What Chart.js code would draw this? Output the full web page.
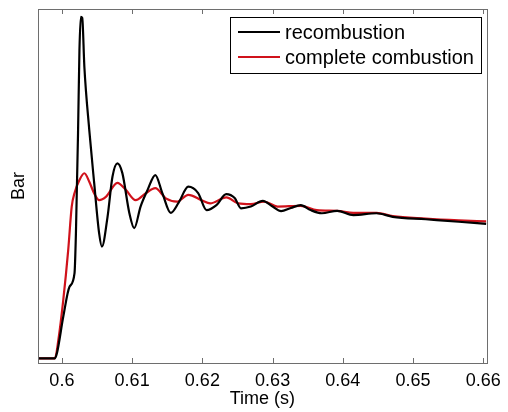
<!DOCTYPE html>
<html>
<head>
<meta charset="utf-8">
<script src="https://cdn.jsdelivr.net/npm/chart.js@4"></script>
<style>
html,body{margin:0;padding:0;background:#fff;}
#wrap{position:relative;width:508px;height:412px;}
</style>
</head>
<body>
<div id="wrap"><canvas id="c" width="508" height="412"></canvas></div>
<script>
// ---- data ----
const seriesNames = ['recombustion', 'complete combustion'];
const xTicks = [0.6, 0.61, 0.62, 0.63, 0.64, 0.65, 0.66];
const recombTime = [0.5966,0.5990,0.5993,0.6002,0.6011,0.6018,0.6020,0.6023,0.6025,0.6027,0.6029,0.6032,0.6039,0.6046,0.6053,0.6057,0.6065,0.6072,0.6079,0.6086,0.6096,0.6103,0.6112,0.6122,0.6133,0.6143,0.6155,0.6166,0.6180,0.6194,0.6206,0.6220,0.6234,0.6246,0.6255,0.6269,0.6286,0.6300,0.6312,0.6326,0.6340,0.6354,0.6370,0.6392,0.6415,0.6448,0.6471,0.6518,0.6565,0.6604];
const recombBar  = [1.3,1.3,2.8,13.1,21.6,25.4,36.7,65.0,88.4,97.8,97.5,83.7,65.8,50.8,36.7,32.9,41.3,52.6,56.4,53.7,42.4,38.1,44.2,48.9,53.1,48.0,42.4,45.2,49.8,48.0,43.2,44.6,47.7,46.6,43.7,44.2,45.8,44.2,42.9,43.8,44.6,43.2,42.3,43.0,41.8,42.3,41.3,40.6,39.9,39.3];
const completeTime = [0.5966,0.5990,0.5995,0.6002,0.6009,0.6014,0.6018,0.6025,0.6032,0.6039,0.6046,0.6053,0.6063,0.6079,0.6091,0.6105,0.6119,0.6133,0.6148,0.6164,0.6180,0.6199,0.6211,0.6234,0.6251,0.6269,0.6288,0.6307,0.6340,0.6363,0.6392,0.6415,0.6448,0.6471,0.6518,0.6565,0.6604];
const completeBar  = [1.3,1.3,6.5,17.8,31.9,44.2,48.0,51.7,53.6,51.2,47.9,46.0,47.0,50.9,48.9,46.0,47.9,49.4,46.5,45.6,47.5,46.0,45.1,46.8,45.1,44.9,45.6,44.2,44.4,43.2,43.0,42.4,42.4,41.5,40.8,40.3,40.0];

const toPts = (xs, ys) => xs.map((x, i) => ({x: x, y: ys[i]}));
const FONT = "'Liberation Sans', Arial, Helvetica, sans-serif";

const framePlugin = {
  id: 'frame',
  afterDatasetsDraw(chart) {
    const {ctx, chartArea: a, scales} = chart;
    ctx.save();
    ctx.strokeStyle = '#6e6e6e';
    ctx.lineWidth = 1;
    ctx.strokeRect(Math.round(a.left) + 0.5, Math.round(a.top) + 0.5,
                   Math.round(a.right - a.left), Math.round(a.bottom - a.top));
    ctx.beginPath();
    xTicks.forEach(v => {
      const px = Math.round(scales.x.getPixelForValue(v)) + 0.5;
      ctx.moveTo(px, a.bottom); ctx.lineTo(px, a.bottom - 5);
      ctx.moveTo(px, a.top); ctx.lineTo(px, a.top + 5);
    });
    ctx.stroke();
    // legend
    const bx = 230.5, by = 17.5, bw = 251, bh = 56;
    ctx.fillStyle = '#fff';
    ctx.fillRect(bx, by, bw, bh);
    ctx.strokeStyle = '#000';
    ctx.strokeRect(bx, by, bw, bh);
    chart.data.datasets.forEach((ds, i) => {
      const y = 32 + i * 25;
      ctx.strokeStyle = ds.borderColor;
      ctx.lineWidth = 2;
      ctx.beginPath(); ctx.moveTo(238, y); ctx.lineTo(280, y); ctx.stroke();
      ctx.fillStyle = '#000';
      ctx.font = '20px ' + FONT;
      ctx.textBaseline = 'middle';
      ctx.textAlign = 'left';
      ctx.fillText(ds.label, 285, y + 1);
    });
    ctx.restore();
  }
};

new Chart(document.getElementById('c'), {
  type: 'line',
  data: {
    datasets: [
      {label: seriesNames[0], data: toPts(recombTime, recombBar), borderColor: '#000000', borderWidth: 2.2, pointRadius: 0, tension: 0.35, cubicInterpolationMode: 'monotone'},
      {label: seriesNames[1], data: toPts(completeTime, completeBar), borderColor: '#d0121b', borderWidth: 2.2, pointRadius: 0, tension: 0.35, cubicInterpolationMode: 'monotone'}
    ]
  },
  options: {
    responsive: false,
    animation: false,
    layout: {padding: {left: 0, top: 9, right: 16, bottom: 0}},
    plugins: {legend: {display: false}, tooltip: {enabled: false}},
    scales: {
      x: {
        type: 'linear', min: 0.5966, max: 0.6605,
        afterBuildTicks: s => { s.ticks = xTicks.map(v => ({value: v})); },
        afterFit: s => { s.height = 49; },
        grid: {display: false, drawTicks: false},
        border: {display: false},
        ticks: {color: '#000', font: {family: FONT, size: 18}, padding: 7, maxRotation: 0,
                callback: v => String(Number(v.toFixed(2)))},
        title: {display: true, text: 'Time (s)', color: '#000', font: {family: FONT, size: 18}, padding: {top: 0, bottom: 2}}
      },
      y: {
        min: 0, max: 100,
        afterFit: s => { s.width = 38; },
        grid: {display: false, drawTicks: false},
        border: {display: false},
        ticks: {display: false},
        title: {display: true, text: 'Bar', color: '#000', font: {family: FONT, size: 18}, padding: {top: 8, bottom: 0}}
      }
    }
  },
  plugins: [framePlugin]
});
</script>
</body>
</html>
